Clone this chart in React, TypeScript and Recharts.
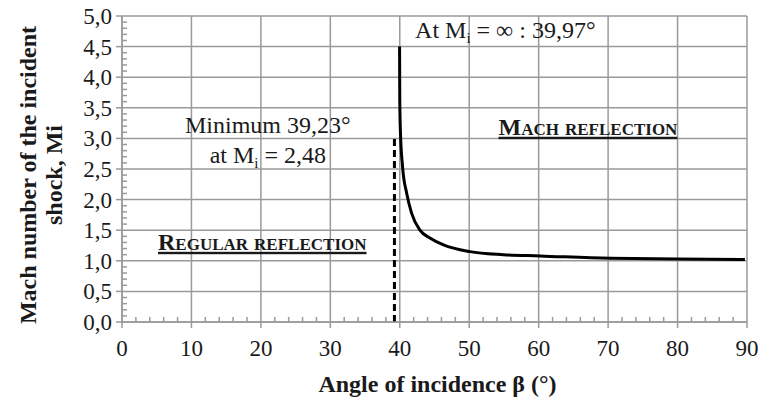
import { LineChart, Line, XAxis, YAxis, CartesianGrid, ReferenceLine, ReferenceDot, Label } from 'recharts';

// curve: Mach number of the incident shock vs angle of incidence
const BETA = [39.97, 40.0, 40.1, 40.4, 41.0, 41.7, 42.9, 44.4, 46.3, 50.1, 54.9, 60.2, 70.3, 80.0, 89.7];
const MACH = [4.5, 3.63, 3.09, 2.54, 2.1, 1.78, 1.5, 1.37, 1.26, 1.15, 1.1, 1.08, 1.04, 1.03, 1.02];

// minimum (dashed line)
const MIN_BETA = 39.23;
const MIN_LINE_TOP = 3.02;

const X_MAJOR = [0, 10, 20, 30, 40, 50, 60, 70, 80, 90];
const X_MINOR = [0, 2, 4, 6, 8, 10, 12, 14, 16, 18, 20, 22, 24, 26, 28, 30, 32, 34, 36, 38, 40, 42, 44, 46, 48, 50,
  52, 54, 56, 58, 60, 62, 64, 66, 68, 70, 72, 74, 76, 78, 80, 82, 84, 86, 88, 90];
const Y_MAJOR = [0, 0.5, 1, 1.5, 2, 2.5, 3, 3.5, 4, 4.5, 5];
const Y_MINOR = [0, 0.1, 0.2, 0.3, 0.4, 0.5, 0.6, 0.7, 0.8, 0.9, 1, 1.1, 1.2, 1.3, 1.4, 1.5, 1.6, 1.7, 1.8, 1.9,
  2, 2.1, 2.2, 2.3, 2.4, 2.5, 2.6, 2.7, 2.8, 2.9, 3, 3.1, 3.2, 3.3, 3.4, 3.5, 3.6, 3.7, 3.8, 3.9,
  4, 4.1, 4.2, 4.3, 4.4, 4.5, 4.6, 4.7, 4.8, 4.9, 5];

// annotation anchors (data coords)
const NOTE_MIN = { x: 21.0, y: 3.22, text: 'Minimum 39,23°' };
const NOTE_MIN2 = { x: 21.0, y: 2.73, pre: 'at M', sub: 'i', post: ' = 2,48' };
const NOTE_INF = { x: 42.2, y: 4.77, pre: 'At M', sub: 'i', post: ' = ∞ : 39,97°' };
const NOTE_REG = { x: 20.2, y: 1.31, text: 'Regular reflection' };
const NOTE_MACH = { x: 67.1, y: 3.19, text: 'Mach reflection' };

const data = BETA.map((b, i) => ({ beta: b, mach: MACH[i] }));

const GRID = '#9a9a9a';
const INK = '#1a1a1a';
const FONT = "Tinos, 'Liberation Serif', 'Times New Roman', serif";
const serif = { fontFamily: FONT };

function XTick(props: any) {
  const { x, y, payload } = props;
  const v = payload.value;
  const major = X_MAJOR.includes(v);
  return (
    <g>
      {major ? (
        <line x1={x} x2={x} y1={y} y2={y + 6} stroke={GRID} strokeWidth={1.5} />
      ) : (
        <line x1={x} x2={x} y1={y} y2={y - 5} stroke={GRID} strokeWidth={1.5} />
      )}
      {major && (
        <text x={x} y={y + 34} textAnchor="middle" fontSize={23} fontFamily={FONT} style={serif} fill={INK}>{v}</text>
      )}
    </g>
  );
}

function YTick(props: any) {
  const { x, y, payload } = props;
  const v = payload.value;
  const major = Math.abs(v * 2 - Math.round(v * 2)) < 1e-6;
  return (
    <g>
      {major ? (
        <line x1={x - 6} x2={x} y1={y} y2={y} stroke={GRID} strokeWidth={1.5} />
      ) : (
        <line x1={x} x2={x + 5} y1={y} y2={y} stroke={GRID} strokeWidth={1.5} />
      )}
      {major && (
        <text x={x - 10} y={y + 8} textAnchor="end" fontSize={23} fontFamily={FONT} style={serif} fill={INK}>
          {v.toFixed(1).replace('.', ',')}
        </text>
      )}
    </g>
  );
}

const textDot = (render: (cx: number, cy: number) => any) => (p: any) => render(p.cx, p.cy);

export default function App() {
  return (
    <div style={{ position: 'absolute', left: 0, top: 0, background: '#fff', fontFamily: FONT }}>
      <LineChart width={762} height={401} data={data} margin={{ top: 16, right: 15, bottom: 0, left: 0 }}
        style={serif}>
        <CartesianGrid stroke={GRID} strokeWidth={1.5} horizontalValues={Y_MAJOR} verticalValues={X_MAJOR} />
        <XAxis
          dataKey="beta"
          type="number"
          domain={[0, 90]}
          ticks={X_MINOR}
          interval={0}
          height={79}
          tickSize={0}
          tickMargin={0}
          tickLine={false}
          axisLine={{ stroke: GRID, strokeWidth: 1.5 }}
          tick={<XTick />}
        >
          <Label
            content={(p: any) => (
              <text x={p.viewBox.x + p.viewBox.width / 2 + 3} y={p.viewBox.y + 70} textAnchor="middle"
                fontSize={24} fontWeight="bold" fontFamily={FONT} style={serif} fill={INK}>
                Angle of incidence β (°)
              </text>
            )}
          />
        </XAxis>
        <YAxis
          type="number"
          domain={[0, 5]}
          ticks={Y_MINOR}
          interval={0}
          width={122}
          tickSize={0}
          tickMargin={0}
          tickLine={false}
          axisLine={{ stroke: GRID, strokeWidth: 1.5 }}
          tick={<YTick />}
        >
          <Label
            content={(p: any) => {
              const cy = p.viewBox.y + p.viewBox.height / 2 + 6;
              return (
                <g fontSize={24} fontWeight="bold" fontFamily={FONT} style={serif} fill={INK}>
                  <text x={36} y={cy} textAnchor="middle" transform={`rotate(-90 36 ${cy})`}>
                    Mach number of the incident
                  </text>
                  <text x={62} y={cy} textAnchor="middle" transform={`rotate(-90 62 ${cy})`}>
                    shock, Mi
                  </text>
                </g>
              );
            }}
          />
        </YAxis>
        <ReferenceLine
          segment={[{ x: MIN_BETA, y: 0 }, { x: MIN_BETA, y: MIN_LINE_TOP }]}
          stroke="#000"
          strokeWidth={3}
          strokeDasharray="7 4"
        />
        <Line
          type="monotone"
          dataKey="mach"
          stroke="#000"
          strokeWidth={3}
          dot={false}
          isAnimationActive={false}
        />
        <ReferenceDot
          x={NOTE_MIN.x}
          y={NOTE_MIN.y}
          r={0}
          shape={textDot((cx, cy) => (
            <text x={cx} y={cy + 8} textAnchor="middle" fontSize={24} fontFamily={FONT} style={serif} fill={INK}>{NOTE_MIN.text}</text>
          ))}
        />
        <ReferenceDot
          x={NOTE_MIN2.x}
          y={NOTE_MIN2.y}
          r={0}
          shape={textDot((cx, cy) => (
            <text x={cx} y={cy + 8} textAnchor="middle" fontSize={24} fontFamily={FONT} style={serif} fill={INK}>
              {NOTE_MIN2.pre}
              <tspan fontSize={15} dy={5}>{NOTE_MIN2.sub}</tspan>
              <tspan dy={-5}>{NOTE_MIN2.post}</tspan>
            </text>
          ))}
        />
        <ReferenceDot
          x={NOTE_INF.x}
          y={NOTE_INF.y}
          r={0}
          shape={textDot((cx, cy) => (
            <text x={cx} y={cy + 8} textAnchor="start" fontSize={24} fontFamily={FONT} style={serif} fill={INK}>
              {NOTE_INF.pre}
              <tspan fontSize={15} dy={5}>{NOTE_INF.sub}</tspan>
              <tspan dy={-5}>{NOTE_INF.post}</tspan>
            </text>
          ))}
        />
        <ReferenceDot
          x={NOTE_REG.x}
          y={NOTE_REG.y}
          r={0}
          shape={textDot((cx, cy) => (
            <text x={cx} y={cy + 8} textAnchor="middle" fontSize={24} fontWeight="bold" fill={INK} fontFamily={FONT}
              textDecoration="underline" style={{ ...serif, fontVariant: 'small-caps' }}>
              {NOTE_REG.text}
            </text>
          ))}
        />
        <ReferenceDot
          x={NOTE_MACH.x}
          y={NOTE_MACH.y}
          r={0}
          shape={textDot((cx, cy) => (
            <text x={cx} y={cy + 8} textAnchor="middle" fontSize={24} fontWeight="bold" fill={INK} fontFamily={FONT}
              textDecoration="underline" style={{ ...serif, fontVariant: 'small-caps' }}>
              {NOTE_MACH.text}
            </text>
          ))}
        />
      </LineChart>
    </div>
  );
}
